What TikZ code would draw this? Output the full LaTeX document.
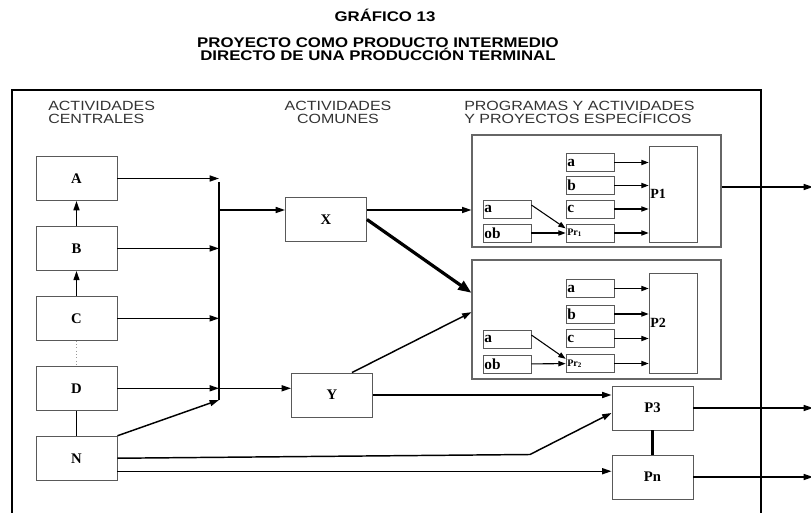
\documentclass[tikz,border=0pt]{standalone}
\usepackage{fontspec}
\setmainfont{Liberation Serif}
\setsansfont{Liberation Sans}[FakeStretch=1.2]
\usetikzlibrary{arrows.meta, positioning}

\begin{document}
\begin{tikzpicture}[
        x=0.75pt,
        y=-0.75pt,
        titulo/.style={
            font=\sffamily\bfseries\fontsize{10.5}{9.5}\selectfont,
            inner sep=0pt
        },
        encabezado/.style={
            font=\sffamily\fontsize{10}{9.5}\selectfont,
            text=black!80,
            inner sep=0pt
        },
        caja/.style={
            draw=black!65,
            line width=0.7pt,
            minimum width=60.75pt,
            minimum height=33pt,
            inner sep=0pt,
            font=\fontsize{11}{12}\selectfont\bfseries
        },
        cajita/.style={
            draw=black!65,
            line width=0.6pt,
            minimum width=36pt,
            minimum height=13.5pt,
            inner sep=1pt,
            text width=34pt,
            align=left,
            font=\fontsize{11.5}{12}\selectfont\bfseries
        },
        producto/.style={
            draw=black!65,
            line width=0.6pt,
            minimum width=36pt,
            inner sep=1pt,
            text width=34pt,
            align=left,
            font=\fontsize{10.5}{12}\selectfont\bfseries
        },
        grupo/.style={
            draw=black!60,
            line width=0.8pt,
            minimum width=186.75pt,
            inner sep=0pt
        },
        flecha/.style={
            -{Triangle[length=7pt,width=4.5pt]},
            line width=1.1pt
        },
        flechita/.style={
            -{Triangle[length=5.5pt,width=4pt]},
            line width=0.8pt
        },
        flechagruesa/.style={
            -{Triangle[length=10pt,width=7.5pt]},
            line width=2.4pt
        },
        barra/.style={
            line width=2pt
        },
        marco/.style={
            line width=1.5pt
        },
        punteado/.style={
            draw=black!40,
            dotted,
            line width=0.5pt
        },
        enlace/.style={
            line width=1.8pt
        },
        linea/.style={
            line width=0.9pt
        }
    ]

        \useasboundingbox (0,0) rectangle (811,513);

        % Titulos
        \node[titulo] (grafico) at (385,15)
            {GRÁFICO 13};
        \node[titulo, align=center] (titulo) at (378,49)
            {PROYECTO COMO PRODUCTO INTERMEDIO\\DIRECTO DE UNA PRODUCCIÓN TERMINAL};

        % Marco
        \draw[marco]
            (12,530) --
            (12,90) --
            (761,90) --
            (761,530);

        % Encabezados de columnas
        \node[encabezado, anchor=north west, align=left] (hcentral) at (48,101)
            {ACTIVIDADES\\CENTRALES};
        \node[encabezado, anchor=north, align=center] (hcomun) at (338,101)
            {ACTIVIDADES\\COMUNES};
        \node[encabezado, anchor=north west, align=left] (hprog) at (464,101)
            {PROGRAMAS Y ACTIVIDADES\\Y PROYECTOS ESPECÍFICOS};

        % Actividades centrales
        \node[caja] (A) at (76.5,178.5) {A};
        \node[caja, below=18.75pt of A] (B) {B};
        \node[caja, below=18.75pt of B] (C) {C};
        \node[caja, below=18.75pt of C] (D) {D};
        \node[caja, below=18.75pt of D] (N) {N};

        \draw[flecha] (B) -- (A);
        \draw[flecha] (C) -- (B);
        \draw[punteado] (C) -- (D);
        \draw[linea] (D) -- (N);

        % Barra colectora
        \coordinate (busarriba) at (219,182);
        \coordinate (busabajo) at (219,400);
        \coordinate (busX) at (219,210);
        \draw[barra] (busarriba) -- (busabajo);

        \draw[flecha] (A.east) -- (A.east -| busarriba);
        \draw[flecha] (B.east) -- (B.east -| busarriba);
        \draw[flecha] (C.east) -- (C.east -| busarriba);
        \draw[flecha] (D.east) -- (D.east -| busarriba);
        \draw[flecha] (N.north east) -- (busabajo);

        % Actividades comunes
        \node[caja] (X) at (326,219.5) {X};
        \node[caja] (Y) at (332,395) {Y};

        \draw[flecha] (busX) -- (busX -| X.west);
        \draw[flecha] (D.east -| busarriba) -- (D.east -| Y.west);

        % Programa 1
        \node[grupo, minimum height=84pt] (G1) at (596.5,191) {};
        \node[cajita] (a1) at (590,162.5) {a};
        \node[cajita] (b1) at (590,185.5) {b};
        \node[cajita] (c1) at (590,209) {c};
        \node[cajita] (pr1) at (590,233)
            {\fontsize{7.5}{8}\selectfont Pr\textsubscript{1}};
        \node[cajita] (ai1) at (507,209) {a};
        \node[cajita] (ob1) at (507,233) {ob};
        \node[producto, minimum height=72pt] (P1) at (673,194) {P1};

        \draw[flechita] (a1.east) -- (a1.east -| P1.west);
        \draw[flechita] (b1.east) -- (b1.east -| P1.west);
        \draw[flechita] (c1.east) -- (c1.east -| P1.west);
        \draw[flechita] (pr1.east) -- (pr1.east -| P1.west);
        \draw[flechita] ([yshift=3pt]ai1.east) -- ([yshift=3.5pt]pr1.west);
        \draw[flechita] (ob1) -- (pr1);

        % Programa 2
        \node[grupo, minimum height=89.25pt] (G2) at (596.5,319.5) {};
        \node[cajita] (a2) at (590,288.5) {a};
        \node[cajita] (b2) at (590,314) {b};
        \node[cajita] (c2) at (590,338.5) {c};
        \node[cajita] (pr2) at (590,363.5)
            {\fontsize{7.5}{8}\selectfont Pr\textsubscript{2}};
        \node[cajita] (ai2) at (507,339) {a};
        \node[cajita] (ob2) at (507,364) {ob};
        \node[producto, minimum height=75pt] (P2) at (673,323) {P2};

        \draw[flechita] (a2.east) -- (a2.east -| P2.west);
        \draw[flechita] (b2.east) -- (b2.east -| P2.west);
        \draw[flechita] (c2.east) -- (c2.east -| P2.west);
        \draw[flechita] (pr2.east) -- (pr2.east -| P2.west);
        \draw[flechita] ([yshift=3pt]ai2.east) -- ([yshift=3.5pt]pr2.west);
        \draw[flechita] (ob2) -- (pr2);

        % Conexiones hacia los programas
        \draw[flecha] (busX -| X.east) -- (busX -| G1.west);
        \draw[flechagruesa] (X.east) -- ([yshift=20pt]G2.west);
        \draw[flecha] ([xshift=15pt]Y.north) -- ([yshift=5.5pt]G2.west);

        % Proyectos P3 y Pn
        \node[caja] (P3) at (652.5,408) {P3};
        \node[caja] (Pn) at (652.5,477) {Pn};
        \draw[enlace] (P3) -- (Pn);

        \coordinate (codo) at (530,454.5);
        \draw[flecha] (Y.east) -- (Y.east -| P3.west);
        \draw[flecha] (N.east) -- (codo) -- ([yshift=-3.75pt]P3.west);
        \draw[flecha] ([yshift=-9.75pt]N.east) -- ([yshift=-9.75pt]N.east -| Pn.west);

        % Salidas
        \coordinate (borde) at (813,0);
        \draw[flecha] ([yshift=3pt]G1.east) -- ([yshift=3pt]G1.east -| borde);
        \draw[flecha] (P3.east) -- (P3.east -| borde);
        \draw[flecha] (Pn.east) -- (Pn.east -| borde);

    \end{tikzpicture}
\end{document}
